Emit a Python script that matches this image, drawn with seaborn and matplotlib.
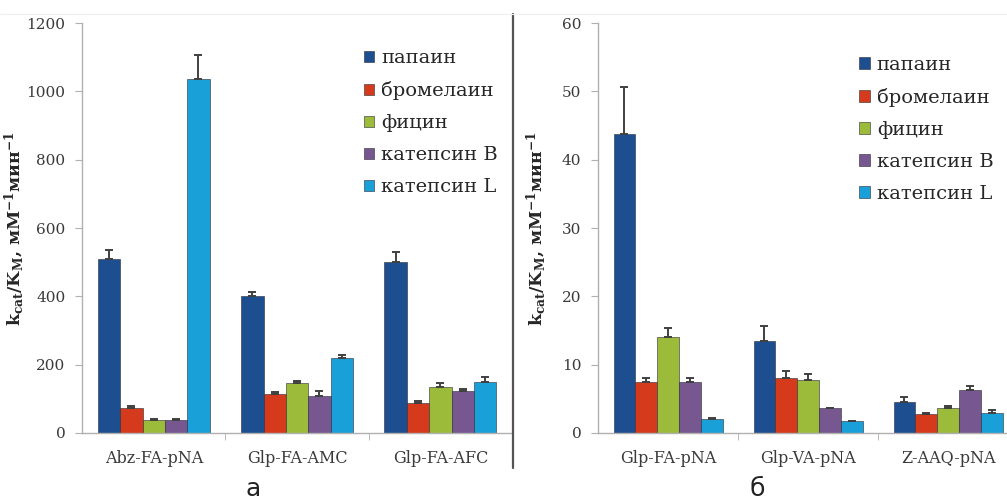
import numpy as np
import pandas as pd
import matplotlib
matplotlib.use("Agg")
import matplotlib.pyplot as plt
import seaborn as sns

enzymes = ["папаин", "бромелаин", "фицин", "катепсин B", "катепсин L"]
colors = ["#1d4f90", "#d53a1c", "#9cbb3a", "#77578f", "#1aa0d8"]

substrates_a = ["Abz-FA-pNA", "Glp-FA-AMC", "Glp-FA-AFC"]
values_a = {
    "папаин": [508, 400, 502],
    "бромелаин": [72, 115, 88],
    "фицин": [37, 145, 135],
    "катепсин B": [38, 108, 123],
    "катепсин L": [1038, 218, 150],
}
errors_a = {
    "папаин": [29, 12, 28],
    "бромелаин": [6, 5, 5],
    "фицин": [3, 7, 10],
    "катепсин B": [4, 15, 5],
    "катепсин L": [70, 10, 15],
}

substrates_b = ["Glp-FA-pNA", "Glp-VA-pNA", "Z-AAQ-pNA"]
values_b = {
    "папаин": [43.8, 13.5, 4.6],
    "бромелаин": [7.5, 8.0, 2.7],
    "фицин": [14.1, 7.8, 3.6],
    "катепсин B": [7.4, 3.6, 6.3],
    "катепсин L": [2.1, 1.7, 2.9],
}
errors_b = {
    "папаин": [6.9, 2.1, 0.6],
    "бромелаин": [0.6, 1.0, 0.2],
    "фицин": [1.2, 0.8, 0.3],
    "катепсин B": [0.7, 0.1, 0.5],
    "катепсин L": [0.1, 0.1, 0.4],
}


def to_long(substrates, values, errors):
    rows = []
    for enz in enzymes:
        for i, sub in enumerate(substrates):
            rows.append({"substrate": sub, "enzyme": enz,
                         "value": values[enz][i], "err": errors[enz][i]})
    return pd.DataFrame(rows)


sns.set_style("white")
plt.rcParams["font.family"] = ["DejaVu Serif"]
plt.rcParams["mathtext.fontset"] = "dejavuserif"

fig = plt.figure(figsize=(10.07, 5.04), dpi=100)
ax_a = fig.add_axes([0.0815, 0.141, 0.427, 0.813])
ax_b = fig.add_axes([0.594, 0.141, 0.417, 0.813])

ylabel = r"k$_\mathbf{cat}$/K$_\mathbf{M}$, мМ$^\mathbf{-1}$мин$^\mathbf{-1}$"


def draw_panel(ax, substrates, values, errors, ymax, step):
    df = to_long(substrates, values, errors)
    sns.barplot(data=df, x="substrate", y="value", hue="enzyme",
                hue_order=enzymes, order=substrates, palette=colors,
                saturation=1, errorbar=None, width=0.78,
                edgecolor="#2a2a35", linewidth=0.4, ax=ax)
    # upward error bars from the bar patches
    for enz, cont in zip(enzymes, ax.containers):
        xs = [p.get_x() + p.get_width() / 2 for p in cont.patches]
        hs = [p.get_height() for p in cont.patches]
        ax.errorbar(xs, hs, yerr=[np.zeros(len(hs)), errors[enz]],
                    fmt="none", ecolor="#404040", elinewidth=1.4,
                    capsize=3, capthick=1.4, zorder=3)
    ax.set_ylim(0, ymax)
    ax.set_xlim(-0.5, 2.5)
    ax.set_yticks(np.arange(0, ymax + step / 2, step))
    ax.set_xlabel("")
    ax.set_ylabel(ylabel, fontsize=12.5, fontweight="bold")
    for s in ["top", "right"]:
        ax.spines[s].set_visible(False)
    for s in ["left", "bottom"]:
        ax.spines[s].set_color("#b0b0b0")
        ax.spines[s].set_linewidth(1.0)
    ax.tick_params(axis="y", direction="out", length=5, color="#b0b0b0",
                   labelsize=11, labelcolor="#3a3a3a", pad=7, left=True)
    ax.tick_params(axis="x", length=0, labelsize=11.5, labelcolor="#3a3a3a",
                   pad=12)
    ax.set_xticks([0.5, 1.5], minor=True)
    ax.tick_params(axis="x", which="minor", direction="out", length=5,
                   color="#b0b0b0", bottom=True)
    leg = ax.legend(loc="upper right", frameon=False, fontsize=14,
                    handlelength=0.55, handleheight=0.55, handletextpad=0.35,
                    labelspacing=0.72, borderaxespad=0)
    for h in leg.legend_handles:
        h.set_edgecolor("#2a2a35")


draw_panel(ax_a, substrates_a, values_a, errors_a, 1200, 200)
draw_panel(ax_b, substrates_b, values_b, errors_b, 60, 10)
# rotated label: x is the right edge of the text
ax_a.yaxis.set_label_coords(-0.128, 0.5)
ax_b.yaxis.set_label_coords(-0.118, 0.5)
ax_a.get_legend().set_bbox_to_anchor((0.985, 0.955))
ax_b.get_legend().set_bbox_to_anchor((0.96, 0.94))

# separator line and panel letters
fig.add_artist(plt.Line2D([0.5095, 0.5095], [0.072, 0.972],
                          color="#555555", linewidth=1.6))
fig.add_artist(plt.Line2D([0.0, 1.0], [0.972, 0.972],
                          color="#eeeeee", linewidth=0.8))
fig.text(0.251, 0.03, "а", fontsize=18, ha="center", va="center",
         family="DejaVu Sans", color="#222222")
fig.text(0.752, 0.03, "б", fontsize=18, ha="center", va="center",
         family="DejaVu Sans", color="#222222")

fig.savefig("out.png", dpi=100)
